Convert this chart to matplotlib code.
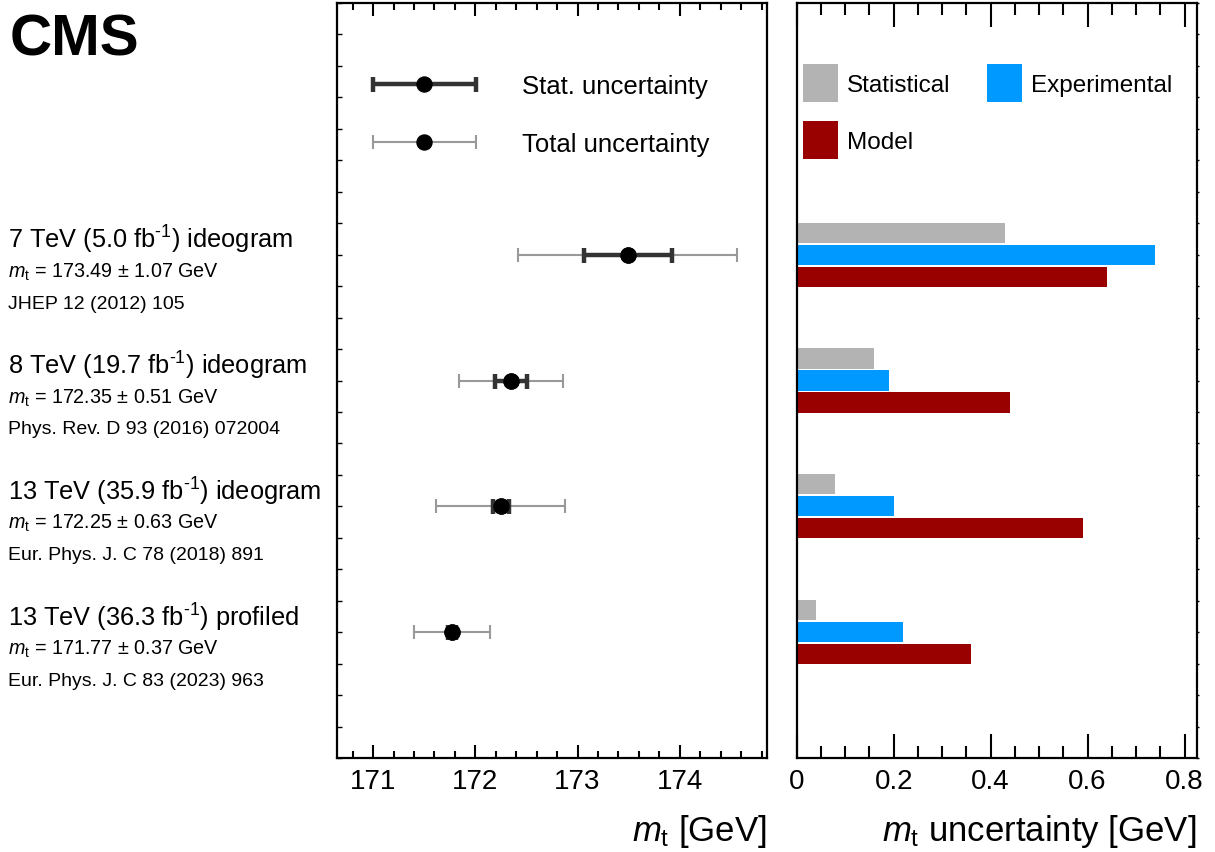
import numpy as np
import matplotlib
matplotlib.use('Agg')
import matplotlib.pyplot as plt
import matplotlib.transforms as mtransforms
from matplotlib.patches import Patch
from matplotlib.legend_handler import HandlerErrorbar
from matplotlib.container import ErrorbarContainer
from matplotlib.ticker import MultipleLocator, FuncFormatter

plt.rcParams['font.family'] = ['Liberation Sans', 'DejaVu Sans']
plt.rcParams['mathtext.fontset'] = 'custom'
plt.rcParams['mathtext.rm'] = 'Liberation Sans'
plt.rcParams['mathtext.it'] = 'Liberation Sans:italic'
plt.rcParams['mathtext.bf'] = 'Liberation Sans:bold'

# --- data ---
titles = [r'7 TeV (5.0 fb$^{\text{-1}}$) ideogram',
          r'8 TeV (19.7 fb$^{\text{-1}}$) ideogram',
          r'13 TeV (35.9 fb$^{\text{-1}}$) ideogram',
          r'13 TeV (36.3 fb$^{\text{-1}}$) profiled']
refs = ['JHEP 12 (2012) 105',
        'Phys. Rev. D 93 (2016) 072004',
        'Eur. Phys. J. C 78 (2018) 891',
        'Eur. Phys. J. C 83 (2023) 963']
mt = [173.49, 172.35, 172.25, 171.77]
tot_unc = [1.07, 0.51, 0.63, 0.37]
stat_unc = [0.43, 0.16, 0.08, 0.04]
exp_unc = [0.74, 0.19, 0.20, 0.22]
model_unc = [0.64, 0.44, 0.59, 0.36]
ypos = [8, 12, 16, 20]

c_stat = '#b3b3b3'
c_exp = '#0099ff'
c_model = '#990000'

fig = plt.figure(figsize=(12.15, 8.53), dpi=100)
ax1 = fig.add_axes([0.2776, 0.1102, 0.3534, 0.8851])
ax2 = fig.add_axes([0.6557, 0.1102, 0.3292, 0.8851])

# left panel: mass values
tot = ax1.errorbar(mt, ypos, xerr=tot_unc, fmt='o', color='black', ms=10.8,
                   ecolor='#999999', elinewidth=1.5, capsize=5, capthick=1.5, zorder=2)
st = ax1.errorbar(mt, ypos, xerr=stat_unc, fmt='o', color='black', ms=10.8,
                  ecolor='#333333', elinewidth=3.2, capsize=5.4, capthick=3.2, zorder=3)

ax1.set_xlim(170.65, 174.85)
ax1.set_ylim(24, 0)
ax1.xaxis.set_major_locator(MultipleLocator(1))
ax1.xaxis.set_minor_locator(MultipleLocator(0.2))
ax1.yaxis.set_major_locator(MultipleLocator(1))
ax1.tick_params(axis='x', which='both', direction='in', top=True, bottom=True,
                labelsize=20, pad=7, width=1.5)
ax1.tick_params(axis='x', which='major', length=9.5)
ax1.tick_params(axis='x', which='minor', length=5)
ax1.tick_params(axis='y', which='major', direction='in', left=True, right=False,
                labelleft=False, length=3.5, width=1)
ax1.set_xlabel(r'$m_\mathrm{t}$ [GeV]', fontsize=25, loc='right', labelpad=13)

ax1.legend([st, tot], ['Stat. uncertainty', 'Total uncertainty'],
           handler_map={ErrorbarContainer: HandlerErrorbar(xerr_size=2.0)},
           loc='upper left', bbox_to_anchor=(0.083, 0.906), frameon=False,
           fontsize=18.5, handlelength=4.0, handletextpad=1.8, labelspacing=1.33,
           borderpad=0, borderaxespad=0)

# right panel: uncertainty breakdown
y = np.array(ypos)
ax2.barh(y - 0.7, stat_unc, height=0.64, color=c_stat, label='Statistical')
ax2.barh(y, exp_unc, height=0.64, color=c_exp, label='Experimental')
ax2.barh(y + 0.7, model_unc, height=0.64, color=c_model, label='Model')

ax2.set_xlim(0, 0.825)
ax2.set_ylim(24, 0)
ax2.xaxis.set_major_locator(MultipleLocator(0.2))
ax2.xaxis.set_minor_locator(MultipleLocator(0.05))
ax2.xaxis.set_major_formatter(FuncFormatter(lambda v, p: '%g' % round(v, 2)))
ax2.yaxis.set_major_locator(MultipleLocator(1))
ax2.tick_params(axis='x', which='both', direction='in', top=True, bottom=True,
                labelsize=20, pad=7, width=1.5)
ax2.tick_params(axis='x', which='major', length=17)
ax2.tick_params(axis='x', which='minor', length=8.6)
ax2.tick_params(axis='y', which='major', direction='out', left=False, right=True,
                labelleft=False, length=1.5, width=1)
ax2.set_xlabel(r'$m_\mathrm{t}$ uncertainty [GeV]', fontsize=25, loc='right', labelpad=13)

handles = [Patch(facecolor=c_stat), Patch(facecolor=c_model), Patch(facecolor=c_exp)]
ax2.legend(handles, ['Statistical', 'Model', 'Experimental'], ncol=2,
           loc='upper left', bbox_to_anchor=(0.015, 0.9192), frameon=False,
           fontsize=17.5, handlelength=1.45, handleheight=2.0, handletextpad=0.36,
           labelspacing=0.8, columnspacing=1.5, borderpad=0, borderaxespad=0)

for ax in (ax1, ax2):
    for s in ax.spines.values():
        s.set_linewidth(1.6)

# labels to the left of the panels
trans = mtransforms.blended_transform_factory(fig.transFigure, ax1.transData)
for i in range(len(ypos)):
    ax1.text(0.0066, ypos[i] - 0.5, titles[i], transform=trans, fontsize=18.3,
             va='center', ha='left', clip_on=False)
    ax1.text(0.0066, ypos[i] + 0.52,
             r'$m_\mathrm{t}$ = %.2f $\pm$ %.2f GeV' % (mt[i], tot_unc[i]),
             transform=trans, fontsize=14.2, va='center', ha='left', clip_on=False)
    ax1.text(0.0066, ypos[i] + 1.54, refs[i], transform=trans, fontsize=14,
             va='center', ha='left', clip_on=False)

fig.text(0.008, 1 - 55 / 853, 'CMS', fontsize=42, fontweight='bold', va='baseline')

fig.savefig('out.png', dpi=100)
